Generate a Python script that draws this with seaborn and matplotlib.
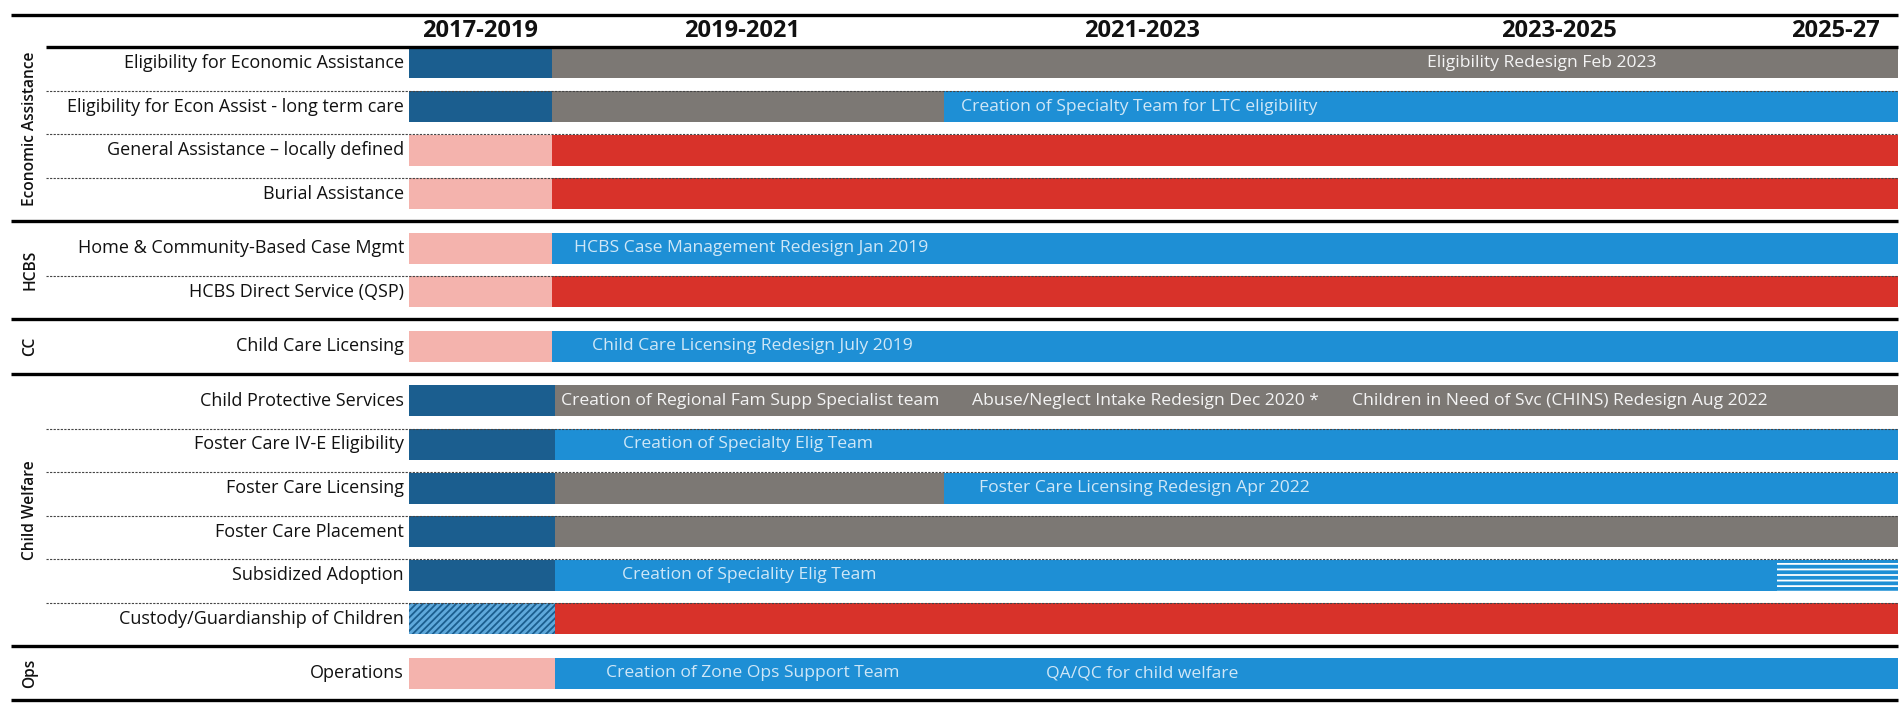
import matplotlib
matplotlib.use("Agg")
import matplotlib.pyplot as plt
from matplotlib.transforms import blended_transform_factory
import seaborn as sns
import pandas as pd

# ---- data (timeline units: 0 = start of 2017, 100 = end of 2025-27) ----
rows = [
    "Eligibility for Economic Assistance",
    "Eligibility for Econ Assist - long term care",
    "General Assistance \u2013 locally defined",
    "Burial Assistance",
    "Home & Community-Based Case Mgmt",
    "HCBS Direct Service (QSP)",
    "Child Care Licensing",
    "Child Protective Services",
    "Foster Care IV-E Eligibility",
    "Foster Care Licensing",
    "Foster Care Placement",
    "Subsidized Adoption",
    "Custody/Guardianship of Children",
    "Operations",
]
groups = ["Economic Assistance"] * 4 + ["HCBS"] * 2 + ["CC"] + ["Child Welfare"] * 6 + ["Ops"]

periods = ["2017-2019", "2019-2021", "2021-2023", "2023-2025", "2025-27"]
period_x = [4.8, 22.4, 49.2, 77.2, 95.8]

# segments: row index, start, end, kind
seg_row = [0, 0, 1, 1, 1, 2, 2, 3, 3, 4, 4, 5, 5, 6, 6,
           7, 7, 8, 8, 9, 9, 9, 10, 10, 11, 11, 11, 12, 12, 13, 13]
seg_start = [0, 9.6, 0, 9.6, 35.9, 0, 9.6, 0, 9.6, 0, 9.6, 0, 9.6, 0, 9.6,
             0, 9.8, 0, 9.8, 0, 9.8, 35.9, 0, 9.8, 0, 9.8, 91.9, 0, 9.8, 0, 9.8]
seg_end = [9.6, 100, 9.6, 35.9, 100, 9.6, 100, 9.6, 100, 9.6, 100, 9.6, 100, 9.6, 100,
           9.8, 100, 9.8, 100, 9.8, 35.9, 100, 9.8, 100, 9.8, 91.9, 100, 9.8, 100, 9.8, 100]
seg_kind = ["dark", "gray", "dark", "gray", "blue", "pink", "red", "pink", "red",
            "pink", "blue", "pink", "red", "pink", "blue",
            "dark", "gray", "dark", "blue", "dark", "gray", "blue", "dark", "gray",
            "dark", "blue", "blue_lines", "diag", "red", "pink", "blue"]

# annotations inside bars
note_row = [0, 1, 4, 6, 7, 7, 7, 8, 9, 11, 13, 13]
note_x = [68.4, 37.1, 11.1, 12.3, 10.2, 37.8, 63.3, 14.4, 38.3, 14.3, 13.2, 42.8]
note_text = [
    "Eligibility Redesign Feb 2023",
    "Creation of Specialty Team for LTC eligibility",
    "HCBS Case Management Redesign Jan 2019",
    "Child Care Licensing Redesign July 2019",
    "Creation of Regional Fam Supp Specialist team",
    "Abuse/Neglect Intake Redesign Dec 2020 *",
    "Children in Need of Svc (CHINS) Redesign Aug 2022",
    "Creation of Specialty Elig Team",
    "Foster Care Licensing Redesign Apr 2022",
    "Creation of Speciality Elig Team",
    "Creation of Zone Ops Support Team",
    "QA/QC for child welfare",
]
note_on = ["gray", "blue", "blue", "blue", "gray", "gray", "gray", "blue", "blue", "blue", "blue", "blue"]

colors = {
    "dark": "#1b5e8f",
    "gray": "#7c7874",
    "blue": "#1e8fd5",
    "red": "#d8322a",
    "pink": "#f4b3ad",
    "blue_lines": "#1e8fd5",
    "diag": "#5fa9dc",
}

# ---- layout ----
sns.set_theme(style="white")
plt.rcParams['font.family'] = ['Open Sans', 'DejaVu Sans']
plt.rcParams['hatch.linewidth'] = 1.3

W, H = 1902, 703
fig = plt.figure(figsize=(W / 100, H / 100), dpi=100)
ax = fig.add_axes([409 / W, 1 - 700 / H, (1898 - 409) / W, (700 - 15) / H])

# y positions with extra gap between groups
ypos = []
g = 0
for i, grp in enumerate(groups):
    if i > 0 and grp != groups[i - 1]:
        g += 1
    ypos.append(i + 0.25 * g)

bar_h = 0.71
segs = pd.DataFrame({"row": seg_row, "start": seg_start, "end": seg_end, "kind": seg_kind})
segs["y"] = [ypos[r] for r in segs["row"]]

for _, s in segs.iterrows():
    kw = dict(color=colors[s.kind], linewidth=0)
    if s.kind == "diag":
        kw.update(hatch="/////", edgecolor=colors["dark"])
    elif s.kind == "blue_lines":
        kw.update(hatch="---", edgecolor="white")
    ax.barh(s.y, s.end - s.start, left=s.start, height=bar_h, **kw)

ax.set_xlim(0, 100)
ax.set_ylim(ypos[-1] + 0.61, -1.10)
ax.axis("off")

trans = blended_transform_factory(fig.transFigure, ax.transData)
x_right = 1898 / W

def hline(y, x0, lw, color="black", **kw):
    ax.plot([x0 / W, x_right], [y, y], transform=trans, clip_on=False,
            color=color, lw=lw, solid_capstyle="butt", **kw)

# frame lines
hline(-1.10, 11, 2.4)
hline(ypos[0] - bar_h / 2 - 0.01, 46, 2.4)
for i in range(1, len(rows)):
    if groups[i] != groups[i - 1]:
        hline((ypos[i] + ypos[i - 1]) / 2, 11, 2.4)
    else:
        hline(ypos[i] - bar_h / 2 - 0.01, 46, 0.8, color="#444444", linestyle=(0, (2, 1.2)))
hline(ypos[-1] + 0.61, 11, 2.4)

# period headers
for x, p in zip(period_x, periods):
    ax.text(x, -0.74, p, ha="center", va="center", fontsize=17, fontweight="bold", color="#111111")

# row labels
for y, r in zip(ypos, rows):
    ax.text(404 / W, y, r, transform=trans, ha="right", va="center", fontsize=13, color="#111111")

# group labels
for grp in dict.fromkeys(groups):
    ys = [ypos[i] for i in range(len(rows)) if groups[i] == grp]
    ax.text(30 / W, (ys[0] + ys[-1]) / 2, grp, transform=trans, rotation=90,
            ha="center", va="center", fontsize=11.2, fontweight="semibold", color="#111111")

# notes in bars
for r, x, t, on in zip(note_row, note_x, note_text, note_on):
    c = "#f4f4f4" if on == "gray" else "#cfe7f7"
    ax.text(x, ypos[r], t, ha="left", va="center", fontsize=12.6, color=c)

fig.savefig("out.png", dpi=100)
